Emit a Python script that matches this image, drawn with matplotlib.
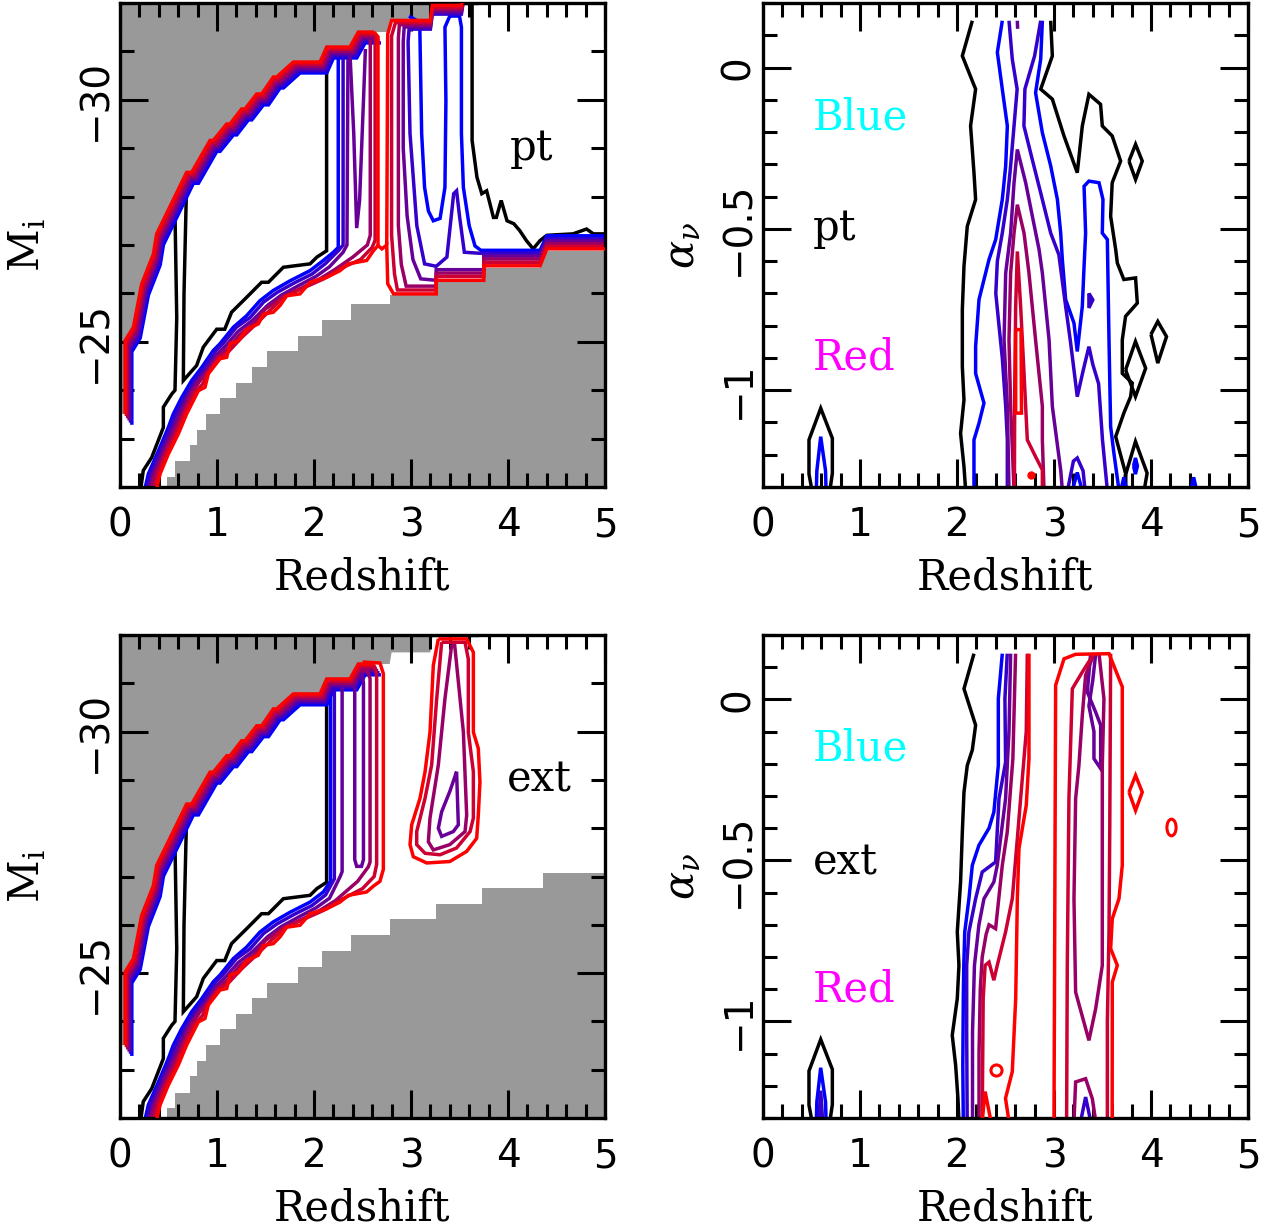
import matplotlib
matplotlib.use("Agg")
import matplotlib.pyplot as plt
from matplotlib.ticker import MultipleLocator, FuncFormatter
from matplotlib.markers import MarkerStyle
from matplotlib.transforms import Affine2D

plt.rcParams["mathtext.fontset"] = "dejavuserif"

# contour colours: black, then blue -> red in six steps
LEVEL_COLORS = ["#000000", "#0000ff", "#3300cc", "#660099", "#990066", "#cc0033", "#ff0000"]
GREY = "#999999"

# ---------------------------------------------------------------- M_i panels
# bright limit (outer red trace), shared by both M_i panels
bright_edge = [(0.052, -23.51), (0.052, -25.02), (0.138, -25.30), (0.223, -26.19), (0.344, -26.81),
               (0.378, -27.23), (0.687, -28.50), (0.739, -28.50), (0.928, -29.16), (0.962, -29.16),
               (1.10, -29.50), (1.134, -29.50), (1.254, -29.81), (1.289, -29.81), (1.409, -30.12),
               (1.461, -30.12), (1.581, -30.47), (1.615, -30.47), (1.787, -30.78), (2.062, -30.78),
               (2.131, -31.09), (2.371, -31.09), (2.457, -31.40), (2.62, -31.40)]
bright_edge_top = [(2.78, -31.40), (2.80, -31.64), (3.20, -31.64), (3.22, -31.95), (3.70, -31.95)]
# spacing of the stacked traces along the bright limit (index = level)
bright_dz = [0.0, 0.07, 0.056, 0.042, 0.028, 0.014, 0.0]
bright_dm = [0.0, 0.225, 0.18, 0.135, 0.09, 0.045, 0.0]

# faint limit (step edges and step tops)
pt_faint_z = [0.48, 0.567, 0.722, 0.797, 0.887, 1.031, 1.196, 1.357, 1.512, 1.838, 2.079, 2.378,
              2.78, 3.26, 3.75, 4.33, 5.0]
pt_faint_m = [-22.2, -22.53, -22.86, -23.18, -23.51, -23.83, -24.15, -24.48, -24.80, -25.12, -25.46,
              -25.78, -25.96, -26.24, -26.52, -26.88, -26.88]
ext_faint_z = [0.48, 0.567, 0.722, 0.797, 0.887, 1.031, 1.196, 1.357, 1.512, 1.838, 2.079, 2.378,
               2.78, 3.26, 3.73, 4.36, 5.0]
ext_faint_m = [-22.2, -22.51, -22.86, -23.17, -23.51, -23.84, -24.15, -24.48, -24.80, -25.12, -25.46,
               -25.79, -26.11, -26.43, -26.76, -27.07, -27.07]

# lower (faint side) edges, shared
lower_black_a = [(0.21, -21.9), (0.24, -22.34), (0.327, -22.61), (0.447, -23.23), (0.447, -23.65),
                 (0.533, -23.92), (0.567, -24.0), (0.585, -25.5), (0.567, -27.65)]
lower_black_b = [(0.685, -28.15), (0.66, -26.0), (0.653, -24.2), (0.79, -24.51), (0.859, -24.89),
                 (0.997, -25.26), (1.08, -25.26), (1.15, -25.61), (1.306, -25.92), (1.46, -26.23),
                 (1.53, -26.23), (1.684, -26.54), (1.959, -26.61), (2.03, -26.75), (2.13, -26.88),
                 (2.13, -30.85)]
lower_blue = [(0.25, -21.9), (0.292, -22.27), (0.412, -22.82), (0.498, -23.23), (0.55, -23.51),
              (0.636, -23.85), (0.739, -24.20), (0.842, -24.47), (0.962, -24.82), (1.031, -24.96),
              (1.168, -25.30), (1.306, -25.54), (1.443, -25.85), (1.58, -26.06), (1.753, -26.26),
              (1.959, -26.47), (2.096, -26.68)]
lower_l2 = [(0.27, -21.9), (0.31, -22.27), (0.43, -22.82), (0.52, -23.23), (0.575, -23.51),
            (0.665, -23.85), (0.77, -24.20), (0.87, -24.47), (0.99, -24.82), (1.06, -24.96),
            (1.20, -25.30), (1.34, -25.50), (1.48, -25.82), (1.62, -26.02), (1.80, -26.22),
            (1.98, -26.40), (2.12, -26.62)]
lower_l3 = [(0.29, -21.9), (0.34, -22.27), (0.45, -22.80), (0.54, -23.2), (0.61, -23.51),
            (0.70, -23.88), (0.80, -24.20), (0.89, -24.42), (1.00, -24.74), (1.09, -24.92),
            (1.22, -25.22), (1.37, -25.45), (1.52, -25.75), (1.66, -25.96), (1.84, -26.16),
            (2.02, -26.35), (2.16, -26.55)]
lower_l4 = [(0.31, -21.9), (0.36, -22.27), (0.47, -22.76), (0.56, -23.15), (0.64, -23.51),
            (0.73, -23.92), (0.82, -24.18), (0.90, -24.38), (1.01, -24.70), (1.11, -24.86),
            (1.24, -25.16), (1.39, -25.40), (1.50, -25.68), (1.68, -25.93), (1.86, -26.10),
            (2.06, -26.30), (2.22, -26.50)]
lower_l5 = [(0.34, -21.9), (0.39, -22.27), (0.48, -22.72), (0.58, -23.12), (0.66, -23.51),
            (0.77, -23.95), (0.85, -24.12), (0.905, -24.36), (1.02, -24.67), (1.12, -24.80),
            (1.26, -25.10), (1.41, -25.38), (1.53, -25.62), (1.70, -25.94), (1.90, -26.12),
            (2.10, -26.30), (2.28, -26.52)]
lower_red = [(0.37, -21.9), (0.413, -22.27), (0.498, -22.68), (0.602, -23.10), (0.687, -23.51),
             (0.808, -23.99), (0.876, -24.06), (0.911, -24.34), (1.031, -24.65), (1.10, -24.68),
             (1.134, -24.96), (1.22, -25.02), (1.306, -25.26), (1.426, -25.37), (1.478, -25.57),
             (1.58, -25.61), (1.65, -25.75), (1.718, -25.95), (1.856, -25.99), (1.959, -26.23),
             (2.13, -26.33), (2.268, -26.47), (2.354, -26.61)]

# point-source panel
pt_blue_tail = [(2.096, -26.68), (2.20, -26.85), (2.25, -26.95), (2.25, -30.92)]
pt_l2_tail = [(2.12, -26.62), (2.25, -26.88), (2.30, -27.0), (2.30, -30.88)]
pt_l3_tail = [(2.16, -26.55), (2.30, -26.85), (2.34, -27.0), (2.35, -30.85)]
pt_l4_tail = [(2.22, -26.50), (2.40, -26.75), (2.55, -27.0), (2.58, -27.2), (2.58, -31.25)]
pt_l5_tail = [(2.28, -26.52), (2.48, -26.70), (2.60, -26.95), (2.63, -27.1), (2.63, -31.30)]
pt_red_tail = [(2.354, -26.61), (2.543, -26.68), (2.612, -26.88), (2.66, -26.99), (2.70, -26.92),
               (2.75, -27.0), (2.76, -26.2), (2.82, -25.99), (3.26, -25.99), (3.26, -26.27),
               (3.75, -26.27), (3.75, -26.57), (4.33, -26.57), (4.40, -26.92), (5.05, -26.92)]
pt_red_lobe = [(2.66, -26.99), (2.66, -31.30), (2.62, -31.40)]
pt_l3_v = [(2.37, -31.0), (2.41, -29.3), (2.44, -27.35), (2.47, -27.92), (2.51, -29.98), (2.53, -31.05)]
pt_red_right = [(3.56, -32.3), (3.52, -31.95), (3.22, -31.95), (3.20, -31.64), (2.80, -31.64),
                (2.76, -31.36), (2.75, -27.0)]
pt_l5_right = [(3.56, -32.3), (3.52, -31.905), (3.22, -31.905), (3.20, -31.595), (2.84, -31.595),
               (2.80, -31.32), (2.80, -27.2), (2.83, -26.4), (2.86, -26.07), (3.26, -26.07),
               (3.26, -26.35), (3.75, -26.35), (3.75, -26.64), (4.33, -26.64), (4.40, -26.975),
               (5.05, -26.975)]
pt_l4_right = [(3.56, -32.3), (3.52, -31.86), (3.22, -31.86), (3.20, -31.55), (2.88, -31.55),
               (2.87, -31.28), (2.87, -27.4), (2.90, -26.6), (2.95, -26.15), (3.26, -26.15),
               (3.26, -26.42), (3.75, -26.42), (3.75, -26.71), (4.33, -26.71), (4.40, -27.03),
               (5.05, -27.03)]
pt_l3_right = [(3.56, -32.3), (3.52, -31.815), (3.22, -31.815), (3.20, -31.505), (2.93, -31.505),
               (2.92, -31.2), (2.92, -29.0), (2.96, -27.6), (3.02, -26.7), (3.10, -26.30),
               (3.26, -26.27), (3.26, -26.49), (3.75, -26.49), (3.75, -26.77), (4.33, -26.77),
               (4.40, -27.08), (5.05, -27.08)]
pt_l2_right = [(3.56, -32.3), (3.52, -31.77), (3.22, -31.77), (3.20, -31.46), (2.98, -31.46),
               (2.97, -31.2), (2.99, -29.3), (3.06, -27.4), (3.14, -26.61), (3.26, -26.56),
               (3.37, -26.75), (3.44, -28.06), (3.47, -28.12), (3.50, -27.6), (3.55, -26.85),
               (3.70, -26.83), (4.33, -26.83), (4.40, -27.13), (5.05, -27.13)]
pt_blue_right = [(2.98, -31.73), (3.09, -31.6), (3.11, -29.3), (3.14, -28.19), (3.18, -27.7),
                 (3.23, -27.5), (3.30, -27.55), (3.35, -28.19), (3.36, -29.98), (3.35, -31.5),
                 (3.40, -31.73), (3.50, -31.73), (3.52, -31.5), (3.52, -29.3), (3.54, -28.19),
                 (3.60, -27.4), (3.66, -26.98), (3.72, -26.89), (4.33, -26.89), (4.40, -27.19),
                 (5.05, -27.19)]
pt_black_right = [(3.63, -32.3), (3.63, -29.16), (3.68, -28.40), (3.73, -28.06), (3.78, -28.12),
                  (3.85, -27.57), (3.88, -27.57), (3.93, -27.92), (3.99, -27.50), (4.06, -27.44),
                  (4.12, -27.30), (4.19, -27.09), (4.26, -26.92), (4.33, -27.09), (4.40, -27.20),
                  (4.67, -27.23), (4.81, -27.33), (4.88, -27.23), (5.05, -27.23)]

# extended-source panel
ext_blue_tail = [(2.096, -26.68), (2.17, -26.9), (2.17, -30.85)]
ext_l2_tail = [(2.12, -26.62), (2.21, -26.95), (2.21, -30.87)]
ext_l3_tail = [(2.16, -26.55), (2.27, -27.0), (2.29, -27.1), (2.29, -30.92)]
ext_l4_tail = [(2.22, -26.50), (2.45, -26.9), (2.56, -27.2), (2.578, -27.3), (2.578, -31.1),
               (2.55, -31.25), (2.45, -31.27)]
ext_l5_tail = [(2.28, -26.52), (2.50, -26.75), (2.62, -27.0), (2.646, -27.25), (2.646, -31.2),
               (2.62, -31.35), (2.45, -31.37)]
ext_red_tail = [(2.354, -26.61), (2.543, -26.68), (2.612, -26.80), (2.68, -26.9), (2.715, -27.15),
                (2.715, -31.2), (2.68, -31.42), (2.50, -31.44)]
ext_l3_loop = [(2.44, -31.16), (2.50, -31.16), (2.51, -31.0), (2.51, -27.35), (2.49, -27.21),
               (2.44, -27.21), (2.42, -27.35), (2.42, -31.0), (2.44, -31.16)]
ext_red_island = [(3.282, -31.92), (3.574, -31.92), (3.643, -31.64), (3.643, -29.99), (3.694, -29.65),
                  (3.711, -28.96), (3.694, -28.27), (3.677, -27.79), (3.574, -27.52), (3.40, -27.31),
                  (3.162, -27.28), (3.024, -27.41), (2.99, -27.66), (3.007, -28.07), (3.093, -28.62),
                  (3.145, -29.17), (3.196, -29.99), (3.23, -31.37), (3.282, -31.92)]
ext_l5_island = [(3.316, -31.85), (3.557, -31.85), (3.591, -31.50), (3.591, -29.99), (3.643, -29.17),
                 (3.643, -28.21), (3.609, -27.93), (3.47, -27.59), (3.299, -27.45), (3.145, -27.48),
                 (3.059, -27.66), (3.059, -27.93), (3.145, -28.62), (3.213, -29.31), (3.265, -30.68),
                 (3.316, -31.85)]
ext_l4_island = [(3.42, -31.80), (3.45, -31.80), (3.54, -29.99), (3.574, -28.27), (3.557, -27.93),
                 (3.40, -27.66), (3.23, -27.55), (3.179, -27.72), (3.196, -28.21), (3.282, -29.31),
                 (3.35, -30.68), (3.42, -31.80)]
ext_l3_island = [(3.47, -29.17), (3.488, -28.07), (3.436, -27.93), (3.316, -27.83), (3.282, -28.0),
                 (3.316, -28.34), (3.40, -28.76), (3.47, -29.17)]

# --------------------------------------------------------- alpha_nu panels
spike_black = [(0.505, -1.31), (0.474, -1.26), (0.474, -1.154), (0.595, -1.056), (0.715, -1.149),
               (0.715, -1.258), (0.69, -1.31)]
spike_blue = [(0.55, -1.31), (0.555, -1.25), (0.595, -1.144), (0.645, -1.25), (0.65, -1.31)]
spike_l2 = [(0.575, -1.31), (0.595, -1.215), (0.615, -1.31)]

pt_a_black_left = [(2.158, 0.145), (2.055, 0.036), (2.192, -0.067), (2.14, -0.181), (2.175, -0.326),
                   (2.192, -0.409), (2.106, -0.492), (2.072, -0.616), (2.055, -0.75), (2.055, -0.927),
                   (2.072, -1.03), (2.037, -1.134), (2.072, -1.237), (2.089, -1.31)]
pt_a_black_right = [(2.966, 0.145), (2.983, 0.036), (2.863, -0.067), (2.983, -0.098), (3.103, -0.212),
                    (3.24, -0.326), (3.292, -0.181), (3.36, -0.083), (3.48, -0.114), (3.498, -0.181),
                    (3.60, -0.212), (3.687, -0.29), (3.60, -0.357), (3.584, -0.461), (3.636, -0.564),
                    (3.653, -0.606), (3.72, -0.657), (3.841, -0.652), (3.859, -0.73), (3.738, -0.771),
                    (3.704, -0.844), (3.704, -0.948), (3.807, -0.978), (3.79, -1.02), (3.72, -1.071),
                    (3.636, -1.144), (3.738, -1.258), (3.72, -1.31)]
pt_a_black_d1 = [(3.773, -0.29), (3.841, -0.238), (3.91, -0.29), (3.841, -0.347), (3.773, -0.29)]
pt_a_black_d2 = [(4.0, -0.827), (4.07, -0.787), (4.16, -0.834), (4.07, -0.916), (4.0, -0.827)]
pt_a_black_d3 = [(3.738, -0.937), (3.84, -0.849), (3.945, -0.932), (3.84, -1.02), (3.738, -0.937)]
pt_a_black_cap = [(3.74, -1.31), (3.74, -1.26), (3.84, -1.159), (3.96, -1.257), (3.93, -1.31)]
pt_a_blue_left = [(2.467, 0.145), (2.416, 0.047), (2.467, -0.067), (2.519, -0.181), (2.502, -0.305),
                  (2.467, -0.409), (2.399, -0.533), (2.33, -0.595), (2.227, -0.719), (2.192, -0.864),
                  (2.192, -0.948), (2.278, -1.04), (2.227, -1.102), (2.175, -1.154), (2.175, -1.31)]
pt_a_blue_right = [(2.88, 0.145), (2.863, 0.026), (2.81, -0.078), (2.88, -0.202), (2.966, -0.305),
                   (3.035, -0.409), (3.069, -0.513), (3.086, -0.595), (3.12, -0.719), (3.206, -0.792),
                   (3.24, -0.88), (3.292, -0.74), (3.31, -0.616), (3.326, -0.513), (3.31, -0.368),
                   (3.36, -0.352), (3.464, -0.357), (3.505, -0.409), (3.498, -0.513), (3.55, -0.533),
                   (3.567, -0.844), (3.584, -1.113), (3.618, -1.196), (3.67, -1.31)]
pt_a_blue_cap = [(3.19, -1.31), (3.24, -1.255), (3.29, -1.31)]
pt_a_blue_bits = [[(3.69, -1.31), (3.72, -1.27), (3.75, -1.31)],
                  [(4.41, -1.31), (4.44, -1.27), (4.47, -1.31)],
                  [(3.82, -1.235), (3.84, -1.21), (3.86, -1.235), (3.84, -1.26), (3.82, -1.235)]]
pt_a_l2_left = [(2.536, 0.145), (2.57, 0.026), (2.62, -0.067), (2.588, -0.181), (2.553, -0.305),
                (2.519, -0.409), (2.467, -0.513), (2.416, -0.6), (2.40, -0.70), (2.433, -0.80),
                (2.467, -0.90), (2.502, -1.05), (2.519, -1.154), (2.519, -1.31)]
pt_a_l2_right = [(2.863, 0.145), (2.80, 0.036), (2.70, -0.067), (2.69, -0.181), (2.776, -0.285),
                 (2.88, -0.409), (2.966, -0.513), (3.05, -0.58), (3.12, -0.74), (3.17, -0.85),
                 (3.24, -1.02), (3.30, -0.94), (3.36, -0.865), (3.40, -0.92), (3.46, -0.98),
                 (3.50, -1.154), (3.55, -1.31)]
pt_a_l2_bits = [[(3.36, -0.70), (3.40, -0.72), (3.36, -0.745), (3.36, -0.70)],
                [(3.14, -1.31), (3.20, -1.22), (3.24, -1.21), (3.30, -1.25), (3.32, -1.31)]]
pt_a_l3 = [(2.536, -1.31), (2.519, -1.05), (2.485, -0.844), (2.502, -0.637), (2.553, -0.513),
           (2.588, -0.357), (2.622, -0.254), (2.708, -0.357), (2.777, -0.461), (2.846, -0.564),
           (2.88, -0.637), (2.949, -0.844), (2.983, -1.05), (3.07, -1.25), (3.086, -1.31)]
pt_a_l3_top = [(2.622, 0.145), (2.625, 0.12)]
pt_a_l4 = [(2.588, -1.31), (2.553, -1.05), (2.536, -0.844), (2.553, -0.637), (2.588, -0.513),
           (2.622, -0.425), (2.691, -0.513), (2.742, -0.637), (2.81, -0.844), (2.88, -1.05),
           (2.88, -1.154), (2.897, -1.31)]
pt_a_l5 = [(2.592, -1.31), (2.595, -1.0), (2.605, -0.74), (2.622, -0.57), (2.656, -0.74),
           (2.691, -0.948), (2.725, -1.154), (2.81, -1.206), (2.88, -1.247), (2.88, -1.31)]
pt_a_red_bar = [(2.605, -0.812), (2.66, -0.812), (2.665, -1.071), (2.605, -1.071), (2.605, -0.812)]
pt_a_red_dot = (2.76, -1.263)

ext_a_black_left = [(2.175, 0.142), (2.072, 0.033), (2.192, -0.08), (2.158, -0.157), (2.106, -0.205),
                    (2.072, -0.288), (2.055, -0.412), (2.037, -0.567), (2.003, -0.722), (2.02, -0.826),
                    (2.003, -0.929), (1.951, -1.043), (1.986, -1.136), (2.01, -1.24), (2.02, -1.31)]
ext_a_blue_left = [(2.467, 0.142), (2.426, 0.002), (2.426, -0.205), (2.38, -0.35), (2.33, -0.40),
                   (2.226, -0.453), (2.158, -0.515), (2.123, -0.619), (2.08, -0.722), (2.07, -0.826),
                   (2.065, -0.929), (2.06, -1.136), (2.065, -1.31)]
ext_a_l2 = [(2.518, 0.142), (2.494, 0.002), (2.501, -0.195), (2.433, -0.308), (2.398, -0.505),
            (2.26, -0.536), (2.192, -0.619), (2.123, -0.722), (2.10, -0.826), (2.10, -1.033),
            (2.105, -1.31)]
ext_a_l3 = [(2.553, 0.142), (2.536, -0.1), (2.501, -0.308), (2.415, -0.515), (2.38, -0.567),
            (2.278, -0.619), (2.226, -0.70), (2.18, -0.826), (2.16, -1.033), (2.16, -1.31)]
ext_a_l4 = [(2.604, 0.142), (2.576, -0.184), (2.518, -0.412), (2.467, -0.515), (2.398, -0.712),
            (2.33, -0.70), (2.30, -0.73), (2.26, -0.80), (2.24, -0.90), (2.227, -1.10), (2.227, -1.31)]
ext_a_l5 = [(2.725, 0.142), (2.714, -0.1), (2.656, -0.308), (2.622, -0.433), (2.57, -0.619),
            (2.501, -0.722), (2.415, -0.826), (2.38, -0.872), (2.33, -0.816), (2.29, -0.826),
            (2.27, -0.929), (2.26, -1.31)]
ext_a_red_left = [(2.742, 0.142), (2.742, -0.184), (2.714, -0.329), (2.639, -0.463), (2.622, -0.619),
                  (2.611, -0.826), (2.605, -0.93), (2.57, -1.156), (2.50, -1.239), (2.536, -1.31)]
ext_a_red_notch = [(2.26, -1.31), (2.29, -1.218), (2.35, -1.31)]
ext_a_red_ring = (2.40, -1.15)
ext_a_red_right = [(3.0, -1.31), (3.017, 0.044), (3.103, 0.126), (3.223, 0.14), (3.567, 0.142),
                   (3.704, 0.039), (3.704, -0.515), (3.67, -0.619), (3.601, -0.681), (3.584, -0.774),
                   (3.653, -0.826), (3.601, -0.878), (3.60, -1.31)]
ext_a_l5_right_a = [(3.13, -1.31), (3.137, -0.826), (3.154, -0.308), (3.189, 0.033), (3.292, 0.085),
                    (3.412, 0.142)]
ext_a_l5_right_b = [(3.584, 0.142), (3.575, -0.40), (3.567, -0.722), (3.55, -1.0), (3.55, -1.31)]
ext_a_l4_loop = [(3.412, 0.142), (3.326, 0.075), (3.292, -0.049), (3.257, -0.205), (3.223, -0.308),
                 (3.206, -0.619), (3.223, -0.909), (3.36, -1.059), (3.43, -0.96), (3.498, -0.826),
                 (3.498, -0.205), (3.515, 0.002), (3.464, 0.142)]
ext_a_l3_zig = [(3.378, 0.142), (3.343, 0.023), (3.43, -0.04), (3.481, -0.08), (3.481, -0.215),
                (3.412, -0.184), (3.412, -0.10), (3.36, -0.02), (3.40, 0.06), (3.43, 0.142)]
ext_a_l4_cap = [(3.206, -1.31), (3.223, -1.188), (3.326, -1.178), (3.395, -1.24), (3.43, -1.31)]
ext_a_l2_cap = [(3.275, -1.31), (3.326, -1.235), (3.378, -1.31)]
ext_a_red_diamond = [(3.773, -0.288), (3.841, -0.236), (3.91, -0.288), (3.841, -0.345), (3.773, -0.288)]
ext_a_red_oval = (4.203, -0.396)

x_ticks = [0, 1, 2, 3, 4, 5]

# ------------------------------------------------------------------ drawing
LW = 2.5


def trace(ax, pts, level, dz=0.0, dm=0.0):
    zs = [p[0] + dz for p in pts]
    vs = [p[1] + dm for p in pts]
    ax.plot(zs, vs, color=LEVEL_COLORS[level], lw=LW, zorder=2 + 0.1 * level,
            solid_joinstyle="miter", solid_capstyle="butt")


def fmt(v, pos):
    s = f"{v:g}"
    return s.replace("-", "\u2212")


def style(ax, ylim, ymajor, yminor):
    ax.set_xlim(0, 5)
    ax.set_ylim(*ylim)
    ax.set_xticks(x_ticks)
    ax.xaxis.set_minor_locator(MultipleLocator(0.2))
    ax.yaxis.set_major_locator(MultipleLocator(ymajor))
    ax.yaxis.set_minor_locator(MultipleLocator(yminor))
    ax.xaxis.set_major_formatter(FuncFormatter(fmt))
    ax.yaxis.set_major_formatter(FuncFormatter(fmt))
    ax.tick_params(which="both", direction="in", top=True, right=True, width=2.2,
                   labelsize=28, colors="black")
    ax.tick_params(which="major", length=20)
    ax.tick_params(which="minor", length=10)
    ax.tick_params(axis="x", pad=14)
    ax.tick_params(axis="y", pad=4, labelrotation=90)
    for lab in ax.get_yticklabels():
        lab.set_va("center")
    for sp in ax.spines.values():
        sp.set_linewidth(2.4)
    ax.set_xlabel("Redshift", fontsize=30, family="DejaVu Serif", va="center")
    ax.xaxis.set_label_coords(0.5, -0.188)


def grey_regions(ax, faint_z, faint_m):
    pts = [(-0.1, -23.51)] + bright_edge + bright_edge_top + [(3.70, -32.5), (-0.1, -32.5)]
    ax.fill([p[0] for p in pts], [p[1] for p in pts], color=GREY, lw=0, zorder=1)
    ax.fill_between(faint_z, faint_m, -21.5, step="post", color=GREY, lw=0, zorder=1)


def shared_mag_traces(ax):
    for lev in range(1, 7):
        trace(ax, bright_edge, lev, bright_dz[lev], bright_dm[lev])
    trace(ax, lower_black_a, 0)
    trace(ax, lower_black_b, 0)


fig = plt.figure(figsize=(12.76, 12.32), dpi=100)
ax_tl = fig.add_axes([0.09404, 0.60471, 0.38009, 0.39286])
ax_tr = fig.add_axes([0.59796, 0.60471, 0.38009, 0.39286])
ax_bl = fig.add_axes([0.09404, 0.09253, 0.38009, 0.39205])
ax_br = fig.add_axes([0.59796, 0.09253, 0.38009, 0.39205])

# --- M_i vs redshift, point sources
ax = ax_tl
grey_regions(ax, pt_faint_z, pt_faint_m)
shared_mag_traces(ax)
trace(ax, lower_blue + pt_blue_tail[1:], 1)
trace(ax, lower_l2 + pt_l2_tail[1:], 2)
trace(ax, lower_l3 + pt_l3_tail[1:], 3)
trace(ax, lower_l4 + pt_l4_tail[1:], 4)
trace(ax, lower_l5 + pt_l5_tail[1:], 5)
trace(ax, lower_red + pt_red_tail[1:], 6)
trace(ax, pt_red_lobe, 6)
trace(ax, pt_l3_v, 3)
trace(ax, pt_black_right, 0)
trace(ax, pt_blue_right, 1)
trace(ax, pt_l2_right, 2)
trace(ax, pt_l3_right, 3)
trace(ax, pt_l4_right, 4)
trace(ax, pt_l5_right, 5)
trace(ax, pt_red_right, 6)
ax.text(4.02, -29.0, "pt", fontsize=30, family="DejaVu Serif", va="center", ha="left")

# --- M_i vs redshift, extended sources
ax = ax_bl
grey_regions(ax, ext_faint_z, ext_faint_m)
shared_mag_traces(ax)
trace(ax, lower_blue + ext_blue_tail[1:], 1)
trace(ax, lower_l2 + ext_l2_tail[1:], 2)
trace(ax, lower_l3 + ext_l3_tail[1:], 3)
trace(ax, lower_l4 + ext_l4_tail[1:], 4)
trace(ax, lower_l5 + ext_l5_tail[1:], 5)
trace(ax, lower_red + ext_red_tail[1:], 6)
trace(ax, ext_l3_loop, 3)
trace(ax, ext_red_island, 6)
trace(ax, ext_l5_island, 5)
trace(ax, ext_l4_island, 4)
trace(ax, ext_l3_island, 3)
ax.text(3.99, -29.0, "ext", fontsize=30, family="DejaVu Serif", va="center", ha="left")

for ax in (ax_tl, ax_bl):
    style(ax, (-22, -32), 5, 1)
    ax.set_ylabel("M$_{\\rm i}$", fontsize=30, family="DejaVu Serif", va="center")
    ax.yaxis.set_label_coords(-0.19, 0.5)

# --- alpha_nu vs redshift, point sources
ax = ax_tr
trace(ax, spike_black, 0)
trace(ax, spike_blue, 1)
for shp in (pt_a_black_left, pt_a_black_right, pt_a_black_d1, pt_a_black_d2, pt_a_black_d3,
            pt_a_black_cap):
    trace(ax, shp, 0)
for shp in [pt_a_blue_left, pt_a_blue_right, pt_a_blue_cap] + pt_a_blue_bits:
    trace(ax, shp, 1)
for shp in [pt_a_l2_left, pt_a_l2_right] + pt_a_l2_bits:
    trace(ax, shp, 2)
trace(ax, pt_a_l3, 3)
trace(ax, pt_a_l3_top, 3)
trace(ax, pt_a_l4, 4)
trace(ax, pt_a_l5, 5)
trace(ax, pt_a_red_bar, 6)
ax.plot([pt_a_red_dot[0]], [pt_a_red_dot[1]], "o", color=LEVEL_COLORS[6], ms=5, zorder=3)
ax.text(0.515, -0.155, "Blue", color="#00ffff", fontsize=30, family="DejaVu Serif", va="center")
ax.text(0.515, -0.496, "pt", color="black", fontsize=30, family="DejaVu Serif", va="center")
ax.text(0.515, -0.90, "Red", color="#ff00ff", fontsize=30, family="DejaVu Serif", va="center")

# --- alpha_nu vs redshift, extended sources
ax = ax_br
trace(ax, spike_black, 0)
trace(ax, spike_blue, 1)
trace(ax, spike_l2, 2)
trace(ax, ext_a_black_left, 0)
trace(ax, ext_a_blue_left, 1)
trace(ax, ext_a_l2, 2)
trace(ax, ext_a_l3, 3)
trace(ax, ext_a_l4, 4)
trace(ax, ext_a_l5, 5)
trace(ax, ext_a_red_left, 6)
trace(ax, ext_a_red_notch, 6)
trace(ax, ext_a_red_right, 6)
trace(ax, ext_a_l5_right_a, 5)
trace(ax, ext_a_l5_right_b, 5)
trace(ax, ext_a_l4_loop, 4)
trace(ax, ext_a_l3_zig, 3)
trace(ax, ext_a_l4_cap, 4)
trace(ax, ext_a_l2_cap, 2)
trace(ax, ext_a_red_diamond, 6)
ax.plot([ext_a_red_ring[0]], [ext_a_red_ring[1]], "o", mfc="none", mec=LEVEL_COLORS[6], mew=2.2,
        ms=8, zorder=3)
oval = MarkerStyle("o", transform=Affine2D().scale(0.55, 1.0))
ax.plot([ext_a_red_oval[0]], [ext_a_red_oval[1]], marker=oval, mfc="none", mec=LEVEL_COLORS[6],
        mew=2.2, ms=12, zorder=3)
ax.text(0.515, -0.151, "Blue", color="#00ffff", fontsize=30, family="DejaVu Serif", va="center")
ax.text(0.515, -0.505, "ext", color="black", fontsize=30, family="DejaVu Serif", va="center")
ax.text(0.515, -0.90, "Red", color="#ff00ff", fontsize=30, family="DejaVu Serif", va="center")

for ax in (ax_tr, ax_br):
    style(ax, (-1.3, 0.2), 0.5, 0.1)
    ax.set_ylabel("$\\alpha_\\nu$", fontsize=30, va="center")
    ax.yaxis.set_label_coords(-0.167, 0.5)

fig.savefig("out.png", dpi=100)
